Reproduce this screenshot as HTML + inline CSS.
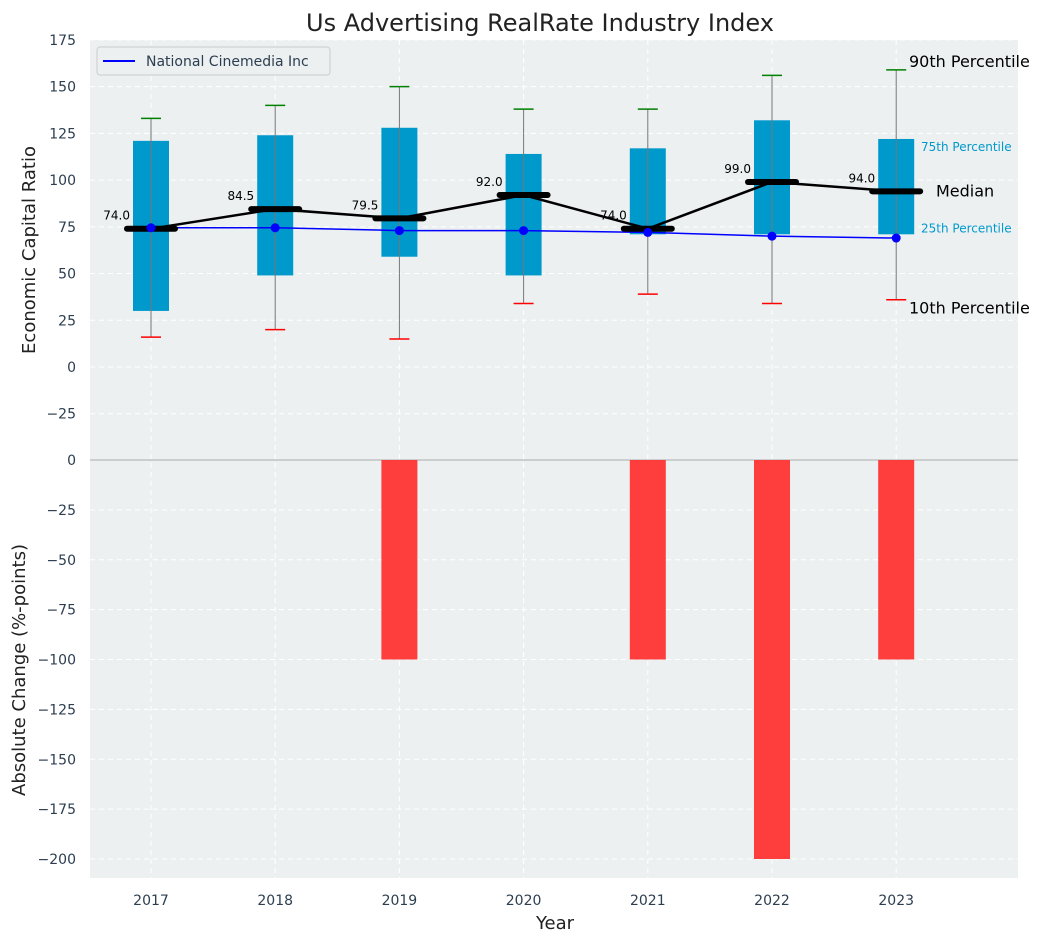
<!DOCTYPE html>
<html><head><meta charset="utf-8"><style>
body{margin:0;background:#fff;}
svg{display:block;font-family:"DejaVu Sans","Liberation Sans",sans-serif;}
</style></head><body>
<svg id="c" width="1044" height="942"></svg>
<script>
const years=["2017","2018","2019","2020","2021","2022","2023"];
const p10=[16,20,15,34,39,34,36];
const p25=[30,49,59,49,71,71,71];
const med=[74,84.5,79.5,92,74,99,94];
const p75=[121,124,128,114,117,132,122];
const p90=[133,140,150,138,138,156,159];
const company=[74.5,74.5,73,73,72,70,69];
const change=[0,0,-100,0,-100,-200,-100];
const topTicks=[175,150,125,100,75,50,25,0,-25];
const botTicks=[0,-25,-50,-75,-100,-125,-150,-175,-200];

const NS="http://www.w3.org/2000/svg";
const svg=document.getElementById('c');
function mk(tag,a,parent){const e=document.createElementNS(NS,tag);for(const k in a)e.setAttribute(k,a[k]);(parent||svg).appendChild(e);return e;}
const fmt=t=>String(t).replace('-','\u2212');
const X=i=>151+i*124.2;
const YT=v=>367-v*1.869;
const YB=v=>460-v*1.995;
const L=90,R=1018;

let e=mk('rect',{x:L,y:40,width:R-L,height:420,fill:'#ecf0f1'});

e=mk('rect',{x:L,y:460,width:R-L,height:418,fill:'#ecf0f1'});


topTicks.forEach(t=>{mk('line',{x1:L,x2:R,y1:YT(t),y2:YT(t),stroke:'#fff','stroke-dasharray':'5,4','stroke-width':1});
 e=mk('text',{x:L-14,y:YT(t)+5,'text-anchor':'end','font-size':14,fill:'#2c3e50'});e.textContent=fmt(t);
 });
botTicks.forEach(t=>{mk('line',{x1:L,x2:R,y1:YB(t),y2:YB(t),stroke:'#fff','stroke-dasharray':'5,4','stroke-width':1});
 e=mk('text',{x:L-14,y:YB(t)+5,'text-anchor':'end','font-size':14,fill:'#2c3e50'});e.textContent=fmt(t);
 });
years.forEach((y,i)=>{mk('line',{x1:X(i),x2:X(i),y1:40,y2:878,stroke:'#fff','stroke-dasharray':'5,4','stroke-width':1});
 e=mk('text',{x:X(i),y:905,'text-anchor':'middle','font-size':14,fill:'#2c3e50'});e.textContent=y;
 });
mk('line',{x1:L,x2:R,y1:460,y2:460,stroke:'#aaa','stroke-width':1});

years.forEach((y,i)=>{
 const x=X(i);
 e=mk('rect',{x:x-18,y:YT(p75[i]),width:36,height:YT(p25[i])-YT(p75[i]),fill:'#0099cc'});
 
 e=mk('line',{x1:x,x2:x,y1:YT(p90[i]),y2:YT(p10[i]),stroke:'#777','stroke-width':1});
 
 e=mk('line',{x1:x-10,x2:x+10,y1:YT(p90[i]),y2:YT(p90[i]),stroke:'green','stroke-width':1.5});
 
 e=mk('line',{x1:x-10,x2:x+10,y1:YT(p10[i]),y2:YT(p10[i]),stroke:'red','stroke-width':1.5});
 
});
e=mk('polyline',{points:med.map((m,i)=>X(i)+','+YT(m)).join(' '),fill:'none',stroke:'#000','stroke-width':2.5});

e=mk('polyline',{points:company.map((m,i)=>X(i)+','+YT(m)).join(' '),fill:'none',stroke:'blue','stroke-width':1.5});

years.forEach((y,i)=>{
 e=mk('line',{x1:X(i)-24,x2:X(i)+24,y1:YT(med[i]),y2:YT(med[i]),stroke:'#000','stroke-width':6,'stroke-linecap':'round'});
 
 e=mk('circle',{cx:X(i),cy:YT(company[i]),r:4.5,fill:'blue'});
 
 e=mk('text',{x:X(i)-21,y:YT(med[i])-9,'text-anchor':'end','font-size':12,fill:'#000'});e.textContent=med[i].toFixed(1);
 
});
change.forEach((v,i)=>{
 e=mk('rect',{x:X(i)-18,y:Math.min(YB(0),YB(v)),width:36,height:Math.abs(YB(v)-YB(0)),fill:'#ff3333','fill-opacity':0.95});
 
});
const li=6;
[['90th Percentile',p90[li],909,16,'#000',-3],['75th Percentile',p75[li],921,12,'#0099cc',12],['Median',med[li],936,16,'#000',5],['25th Percentile',p25[li],921,12,'#0099cc',-2],['10th Percentile',p10[li],909,16,'#000',14]].forEach(a=>{
 e=mk('text',{x:a[2],y:YT(a[1])+a[5],'font-size':a[3],fill:a[4]});e.textContent=a[0];
 
});
e=mk('rect',{x:97,y:47,width:233,height:28,rx:3,fill:'#ecf0f1',stroke:'#ccc'});

mk('line',{x1:103,x2:135,y1:61,y2:61,stroke:'blue','stroke-width':2});
e=mk('text',{x:146,y:66,'font-size':14,fill:'#2c3e50'});e.textContent='National Cinemedia Inc';

e=mk('text',{x:540,y:31,'text-anchor':'middle','font-size':24,fill:'#222'});e.textContent='Us Advertising RealRate Industry Index';

e=mk('text',{x:555,y:929,'text-anchor':'middle','font-size':18,fill:'#222'});e.textContent='Year';

e=mk('text',{x:0,y:0,'text-anchor':'middle','font-size':18,fill:'#222',transform:'translate(35,250) rotate(-90)'});e.textContent='Economic Capital Ratio';

e=mk('text',{x:0,y:0,'text-anchor':'middle','font-size':18,fill:'#222',transform:'translate(25,670) rotate(-90)'});e.textContent='Absolute Change (%-points)';

</script>
</body></html>
